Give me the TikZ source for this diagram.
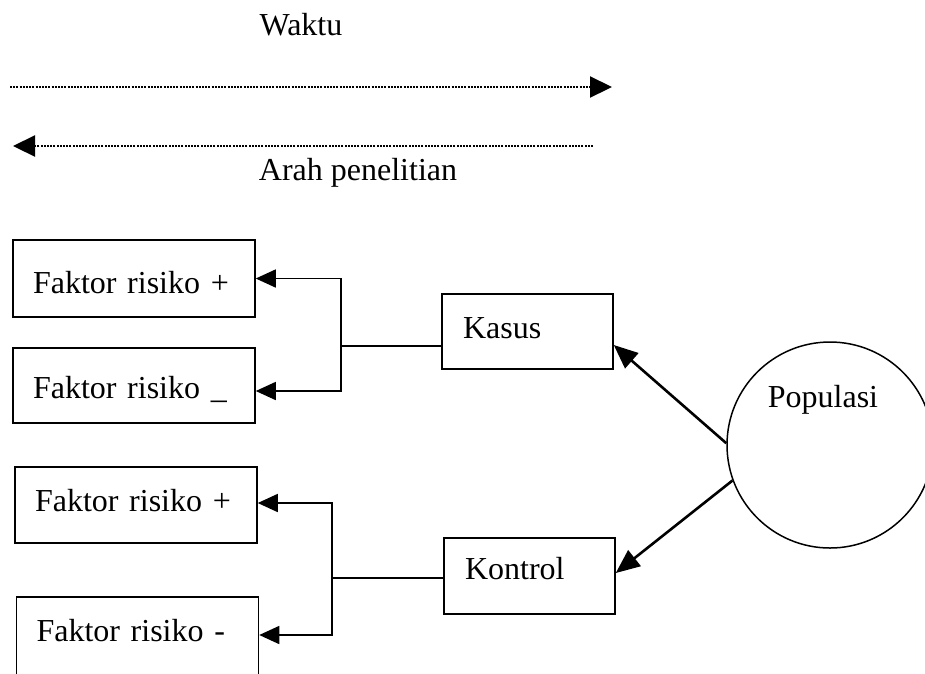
\documentclass[tikz,border=0pt]{standalone}
\usepackage{fontspec}
\setmainfont{Liberation Serif}
\usetikzlibrary{arrows.meta}
\begin{document}
\begin{tikzpicture}[x=1pt,y=-1pt,
  font=\fontsize{32}{38}\selectfont,
  every node/.style={inner sep=0pt},
  factor/.style={draw, line width=1.5pt, minimum width=242pt, text width=202pt,
    align=left, inner xsep=20pt, inner ysep=0pt},
  group/.style={draw, line width=1.5pt, minimum width=171pt, minimum height=75pt,
    text width=129pt, align=left, inner xsep=21pt, inner ysep=0pt},
  conn/.style={line width=1.5pt},
  tip/.style={-{Triangle[length=20pt,width=18pt]}},
  bigtip/.style={line width=2.6pt, -{Triangle[length=24pt,width=20pt]}},
  dotline/.style={line width=2.2pt, dash pattern=on 2pt off 1.2pt,
    -{Triangle[length=22pt,width=21pt]}}
]
\useasboundingbox (0,0) rectangle (925,673);
\clip (0,0) rectangle (925,673);

% time axis and research direction
\node (waktu) at (301,25) {Waktu};
\coordinate (timeStart) at (10,87);
\coordinate (timeEnd) at (612,87);
\draw[dotline] (timeStart) -- (timeEnd);
\coordinate (dirStart) at (593,146);
\coordinate (dirEnd) at (13,146);
\draw[dotline] (dirStart) -- (dirEnd);
\node (arah) at (358,173) {Arah penelitian};

% risk factor boxes
\node[factor, minimum height=77pt, text height=29pt, text depth=0pt] (f1) at (134,278.5) {Faktor risiko +};
\node[factor, minimum height=75pt, text height=25pt, text depth=0pt] (f2) at (134,385.5) {Faktor risiko \_};
\node[factor, minimum height=76pt, text height=22pt, text depth=10pt] (f3) at (136,505) {Faktor risiko +};
\node[factor, minimum height=86pt, text height=22pt, text depth=20pt] (f4) at (137.5,640) {Faktor risiko -};

% case and control groups
\node[group, text height=22pt, text depth=9pt] (kasus) at (527.5,331.5) {Kasus};
\node[group, minimum height=76pt, text height=22pt, text depth=16pt] (kontrol) at (529.5,576) {Kontrol};

% population
\node[draw, circle, line width=1.5pt, minimum size=206pt] (pop) at (830,445) {};
\node (poptext) at (823,400) {Populasi};

% branch connectors
\coordinate (j1) at (341,346);
\coordinate (j2) at (332,578);
\draw[conn] (j1) -- (j1 -| kasus.west);
\draw[conn, tip] (j1) |- (f1.east);
\draw[conn, tip] (j1) |- ([yshift=-5.5pt]f2.east);
\draw[conn] (j2) -- (j2 -| kontrol.west);
\draw[conn, tip] (j2) |- ([yshift=2pt]f3.east);
\draw[conn, tip] (j2) |- ([yshift=5pt]f4.east);

% sampling arrows from the population
\draw[bigtip] (pop.179) -- ([yshift=-13.5pt]kasus.east);
\draw[bigtip] (pop.200) -- ([yshift=3pt]kontrol.east);
\end{tikzpicture}
\end{document}
